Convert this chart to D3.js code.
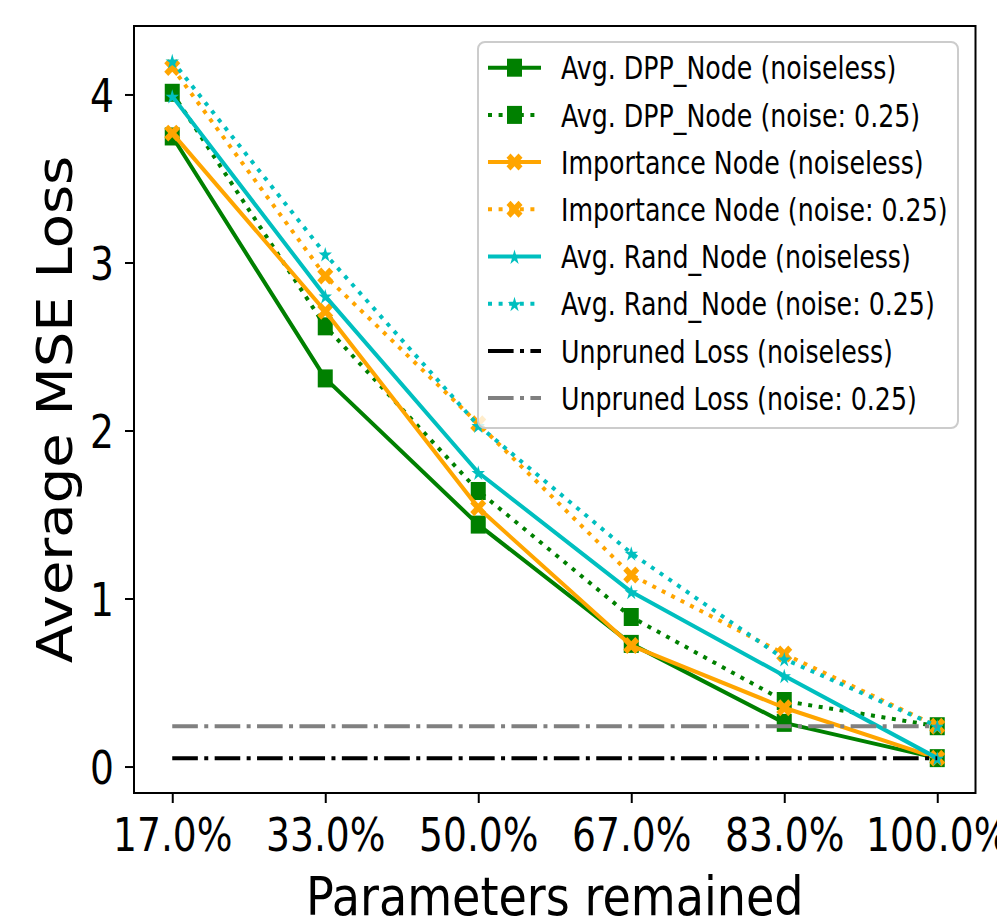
<!DOCTYPE html>
<html><head><meta charset="utf-8">
<script src="https://cdn.jsdelivr.net/npm/d3@7"></script>
<style>html,body{margin:0;padding:0;background:#fff}</style>
</head><body>
<svg id="chart" width="997" height="923"></svg>
<script>
// ---------- data ----------
const categories = ["17.0%", "33.0%", "50.0%", "67.0%", "83.0%", "100.0%"];
const dppNoiseless  = [3.75, 2.31, 1.44, 0.73, 0.26, 0.05];
const dppNoise      = [4.01, 2.62, 1.64, 0.89, 0.39, 0.24];
const impNoiseless  = [3.77, 2.71, 1.54, 0.72, 0.35, 0.05];
const impNoise      = [4.16, 2.92, 2.04, 1.14, 0.67, 0.24];
const randNoiseless = [3.99, 2.80, 1.75, 1.04, 0.54, 0.05];
const randNoise     = [4.20, 3.05, 2.03, 1.27, 0.64, 0.24];
const unprunedNoiseless = 0.05;
const unprunedNoise     = 0.24;
const yTicks = [0, 1, 2, 3, 4];
const seriesLabels = [
  "Avg. DPP_Node (noiseless)", "Avg. DPP_Node (noise: 0.25)",
  "Importance Node (noiseless)", "Importance Node (noise: 0.25)",
  "Avg. Rand_Node (noiseless)", "Avg. Rand_Node (noise: 0.25)",
  "Unpruned Loss (noiseless)", "Unpruned Loss (noise: 0.25)"
];
const xLabel = "Parameters remained";
const yLabel = "Average MSE Loss";

(function () {
// ---------- styles ----------
const GREEN = "#008000", ORANGE = "#FFA500", CYAN = "#00BFBF";
const SOLID = null, DOTTED = "4 6.6", DASHDOT = "25.6 6.4 4 6.4";
const series = [
  {label: seriesLabels[0], values: dppNoiseless,  color: GREEN,  dash: SOLID,  marker: "square"},
  {label: seriesLabels[1], values: dppNoise,      color: GREEN,  dash: DOTTED, marker: "square"},
  {label: seriesLabels[2], values: impNoiseless,  color: ORANGE, dash: SOLID,  marker: "x"},
  {label: seriesLabels[3], values: impNoise,      color: ORANGE, dash: DOTTED, marker: "x"},
  {label: seriesLabels[4], values: randNoiseless, color: CYAN,   dash: SOLID,  marker: "star"},
  {label: seriesLabels[5], values: randNoise,     color: CYAN,   dash: DOTTED, marker: "star"}
];
const hlines = [
  {label: seriesLabels[6], value: unprunedNoiseless, color: "#000000", dash: DASHDOT},
  {label: seriesLabels[7], value: unprunedNoise,     color: "#808080", dash: DASHDOT}
];

const FONT = "DejaVu Sans";
const pL = 134, pR = 975.5, pT = 26, pB = 793;
const svg = d3.select("#chart");

const x = d3.scalePoint().domain(categories).range([pL, pR]).padding(0.25);
const allVals = series.flatMap(s => s.values).concat(hlines.map(h => h.value));
const vmin = d3.min(allVals), vmax = d3.max(allVals), m = (vmax - vmin) * 0.05;
const y = d3.scaleLinear().domain([vmin - m, vmax + m]).range([pB, pT]);

// ---------- markers ----------
const plusPts = [[-1,-3],[1,-3],[1,-1],[3,-1],[3,1],[1,1],[1,3],[-1,3],[-1,1],[-3,1],[-3,-1],[-1,-1]]
  .map(([a,b]) => [a/6, b/6]);
const xPts = plusPts.map(([a,b]) => [(a - b) / Math.SQRT2, (a + b) / Math.SQRT2]);
function starPts(R) {
  const pts = [];
  for (let i = 0; i < 10; i++) {
    const r = i % 2 === 0 ? R : R * 0.381966;
    const ang = -Math.PI / 2 + i * Math.PI / 5;
    pts.push([r * Math.cos(ang), r * Math.sin(ang)]);
  }
  return pts;
}
const starP = starPts(8);
function drawMarker(g, type, cx, cy, color) {
  if (type === "square") {
    g.append("rect").attr("x", cx - 7.5).attr("y", cy - 9).attr("width", 15).attr("height", 18)
      .attr("fill", color);
  } else if (type === "x") {
    g.append("polygon").attr("points", xPts.map(([a,b]) => [cx + a*17, cy + b*18].join(",")).join(" "))
      .attr("fill", color);
  } else if (type === "star") {
    g.append("polygon").attr("points", starP.map(([a,b]) => [cx + a*0.88, cy + b + 1].join(",")).join(" "))
      .attr("fill", color);
  }
}

// ---------- plot ----------
const plot = svg.append("g");
const line = d3.line().x((d, i) => x(categories[i])).y(d => y(d));
series.forEach(s => {
  const g = plot.append("g");
  g.append("path").datum(s.values).attr("d", line)
    .attr("fill", "none").attr("stroke", s.color).attr("stroke-width", 4)
    .attr("stroke-dasharray", s.dash).attr("stroke-linejoin", "round");
  s.values.forEach((v, i) => drawMarker(g, s.marker, x(categories[i]), y(v), s.color));
});
hlines.forEach(h => {
  plot.append("line")
    .attr("x1", x(categories[0])).attr("x2", x(categories[categories.length - 1]))
    .attr("y1", y(h.value)).attr("y2", y(h.value))
    .attr("stroke", h.color).attr("stroke-width", 4).attr("stroke-dasharray", h.dash);
});

// ---------- axes ----------
const xAxis = svg.append("g").attr("transform", `translate(0,${pB})`)
  .call(d3.axisBottom(x).tickSize(10).tickSizeOuter(0));
xAxis.select(".domain").remove();
xAxis.selectAll(".tick line").attr("stroke", "#000").attr("stroke-width", 2);
xAxis.selectAll(".tick text").attr("y", 0).attr("dy", 0)
  .attr("transform", "translate(0,58) scale(0.8,1)")
  .attr("font-family", FONT).attr("font-size", 47).attr("fill", "#000");

const yAxis = svg.append("g").attr("transform", `translate(${pL},0)`)
  .call(d3.axisLeft(y).tickValues(yTicks).tickFormat(d3.format("d")).tickSize(9).tickSizeOuter(0));
yAxis.select(".domain").remove();
yAxis.selectAll(".tick line").attr("stroke", "#000").attr("stroke-width", 2);
yAxis.selectAll(".tick text").attr("x", 0).attr("dy", 0)
  .attr("transform", "translate(-20,17) scale(0.8,1)")
  .attr("font-family", FONT).attr("font-size", 47).attr("fill", "#000");

// frame
svg.append("rect").attr("x", pL).attr("y", pT).attr("width", pR - pL).attr("height", pB - pT)
  .attr("fill", "none").attr("stroke", "#000").attr("stroke-width", 2);

// axis labels
svg.append("text").text(xLabel)
  .attr("transform", `translate(${(pL + pR) / 2},915) scale(0.87,1)`)
  .attr("text-anchor", "middle").attr("font-family", FONT).attr("font-size", 53).attr("fill", "#000");
svg.append("text").text(yLabel)
  .attr("transform", `translate(72,${(pT + pB) / 2}) scale(0.88,1) rotate(-90)`)
  .attr("text-anchor", "middle").attr("font-family", FONT).attr("font-size", 56).attr("fill", "#000");

// ---------- legend ----------
const lg = svg.append("g");
lg.append("rect").attr("x", 478).attr("y", 42).attr("width", 480).attr("height", 386).attr("rx", 7)
  .attr("fill", "#fff").attr("fill-opacity", 0.8).attr("stroke", "#cccccc").attr("stroke-width", 2);
const legendItems = series.map(s => ({...s})).concat(hlines.map(h => ({...h, marker: null})));
legendItems.forEach((it, i) => {
  const cy = 67.7 + i * 47.2;
  const g = lg.append("g");
  g.append("line").attr("x1", 488).attr("x2", 541).attr("y1", cy).attr("y2", cy)
    .attr("stroke", it.color).attr("stroke-width", 4).attr("stroke-dasharray", it.dash);
  if (it.marker) drawMarker(g, it.marker, 514.5, cy, it.color);
  g.append("text").text(it.label)
    .attr("transform", `translate(561,${cy + 11.6}) scale(0.79,1)`)
    .attr("font-family", FONT).attr("font-size", 32).attr("fill", "#000");
});
})();
</script>
</body></html>
